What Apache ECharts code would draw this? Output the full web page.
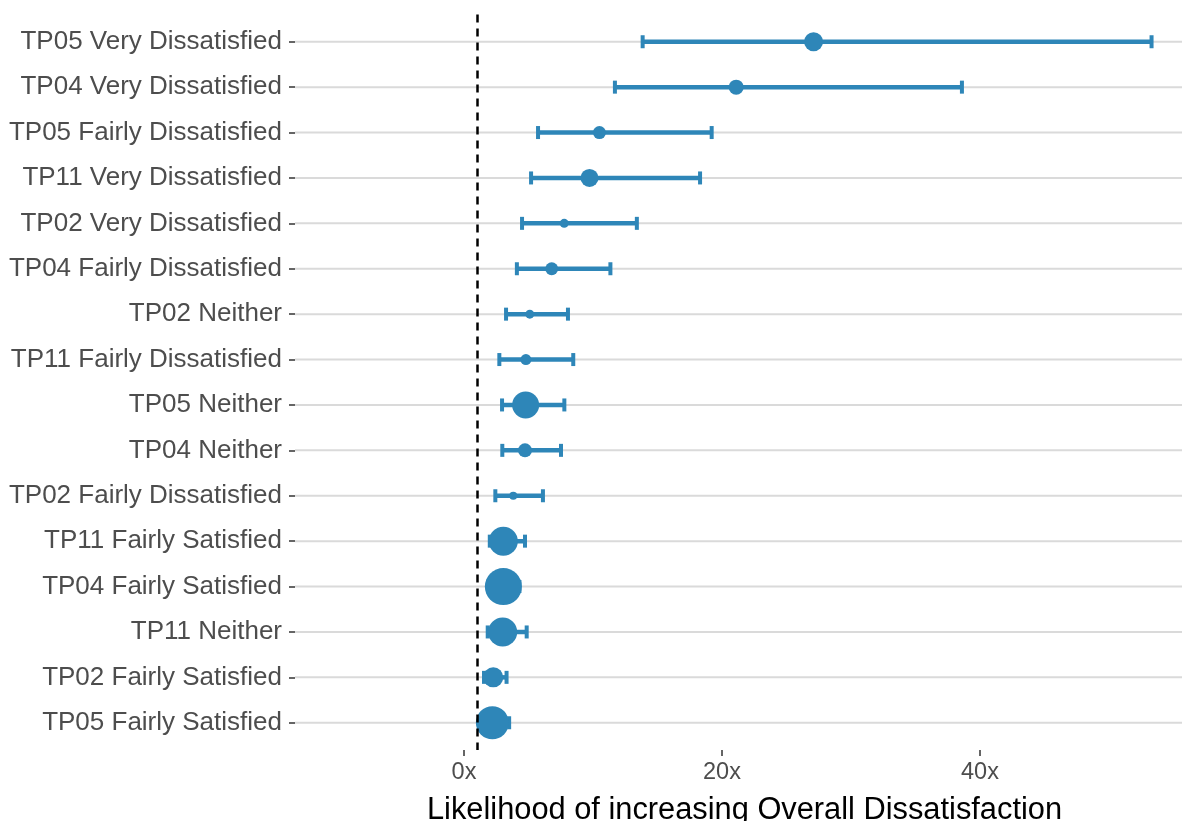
<!DOCTYPE html>
<html>
<head>
<meta charset="utf-8">
<script src="https://cdn.jsdelivr.net/npm/echarts@6/dist/echarts.min.js"></script>
<style>
  html, body { margin: 0; padding: 0; background: #ffffff; }
  #chart { width: 1182px; height: 821px; }
</style>
</head>
<body>
<div id="chart"></div>
<script>
// Categories, top to bottom
const categories = [
  'TP05 Very Dissatisfied',
  'TP04 Very Dissatisfied',
  'TP05 Fairly Dissatisfied',
  'TP11 Very Dissatisfied',
  'TP02 Very Dissatisfied',
  'TP04 Fairly Dissatisfied',
  'TP02 Neither',
  'TP11 Fairly Dissatisfied',
  'TP05 Neither',
  'TP04 Neither',
  'TP02 Fairly Dissatisfied',
  'TP11 Fairly Satisfied',
  'TP04 Fairly Satisfied',
  'TP11 Neither',
  'TP02 Fairly Satisfied',
  'TP05 Fairly Satisfied'
];
// Odds-ratio estimates and confidence bounds
const estimates = [27.1, 21.1, 10.5, 9.73, 7.77, 6.8, 5.1, 4.8, 4.78, 4.73, 3.82, 3.05, 3.05, 3.0, 2.27, 2.2];
const lowerCI   = [13.85, 11.7, 5.74, 5.2, 4.5, 4.1, 3.26, 2.74, 2.95, 2.97, 2.43, 2.0, 2.0, 1.84, 1.55, 1.2];
const upperCI   = [53.3, 38.6, 19.2, 18.3, 13.4, 11.35, 8.06, 8.47, 7.78, 7.52, 6.12, 4.73, 4.3, 4.86, 3.3, 3.5];
// Relative weight of each estimate (drives point area)
const weights   = [361, 225, 169, 324, 81, 169, 81, 121, 729, 196, 64, 841, 1369, 841, 400, 1089];
// Reference line and x tick values
const referenceValue = 1;
const xTicks = [0, 20, 40];
const xTitle = 'Likelihood of increasing Overall Dissatisfaction';

const COLOR = '#2e86b8';
const rowIdx = categories.map((c, i) => i);

const errData = categories.map((c, i) => [lowerCI[i], upperCI[i], i]);
const pointData = categories.map((c, i) => [estimates[i], i, weights[i]]);

const chart = echarts.init(document.getElementById('chart'));
chart.setOption({
  backgroundColor: '#ffffff',
  animation: false,
  grid: { left: 295, right: 0, top: 14.5, bottom: 71, containLabel: false, outerBoundsMode: 'none' },
  xAxis: {
    type: 'value',
    min: -13.1,
    max: 55.66,
    axisLine: { show: false, onZero: false },
    splitLine: { show: false },
    axisTick: { show: true, customValues: xTicks, length: 6, lineStyle: { color: '#333333', width: 1.5 } },
    axisLabel: {
      customValues: xTicks,
      formatter: v => v + 'x',
      fontFamily: 'Liberation Sans',
      fontSize: 23.5,
      color: '#4d4d4d',
      margin: 11
    },
    name: xTitle,
    nameLocation: 'middle',
    nameGap: 45,
    nameMoveOverlap: false,
    nameTextStyle: { fontFamily: 'Liberation Sans', fontSize: 30.8, color: '#000000', padding: [0, 0, 0, 12] }
  },
  yAxis: {
    type: 'value',
    min: -0.6,
    max: 15.6,
    inverse: true,
    axisLine: { show: false, onZero: false },
    axisTick: { show: true, customValues: rowIdx, length: 6, lineStyle: { color: '#333333', width: 1.5 } },
    axisLabel: {
      customValues: rowIdx,
      formatter: v => categories[Math.round(v)] || '',
      fontFamily: 'Liberation Sans',
      fontSize: 26,
      color: '#4d4d4d',
      margin: 13
    },
    splitLine: { show: false }
  },
  series: [
    {
      // horizontal grid lines, one per category
      type: 'custom',
      silent: true,
      z: 0,
      data: rowIdx.map(i => [0, i]),
      renderItem: function (params, api) {
        const cs = params.coordSys;
        const y = api.coord([0, api.value(1)])[1];
        return {
          type: 'line',
          shape: { x1: cs.x, y1: y, x2: cs.x + cs.width, y2: y },
          style: { stroke: '#dadada', lineWidth: 2 }
        };
      }
    },
    {
      type: 'custom',
      silent: true,
      z: 2,
      data: errData,
      renderItem: function (params, api) {
        const p1 = api.coord([api.value(0), api.value(2)]);
        const p2 = api.coord([api.value(1), api.value(2)]);
        const h = 6.5;
        const st = { stroke: COLOR, lineWidth: 4.5 };
        const cap = { stroke: COLOR, lineWidth: 4 };
        return {
          type: 'group',
          children: [
            { type: 'line', shape: { x1: p1[0], y1: p1[1], x2: p2[0], y2: p2[1] }, style: st },
            { type: 'line', shape: { x1: p1[0], y1: p1[1] - h, x2: p1[0], y2: p1[1] + h }, style: cap },
            { type: 'line', shape: { x1: p2[0], y1: p2[1] - h, x2: p2[0], y2: p2[1] + h }, style: cap }
          ]
        };
      }
    },
    {
      type: 'scatter',
      z: 3,
      data: pointData,
      symbol: 'circle',
      symbolSize: d => Math.sqrt(d[2]),
      itemStyle: { color: COLOR, opacity: 1 },
      markLine: {
        silent: true,
        symbol: ['none', 'none'],
        label: { show: false },
        lineStyle: { color: '#000000', type: [8, 6], width: 2.5 },
        data: [{ xAxis: referenceValue }]
      }
    }
  ]
});
</script>
</body>
</html>
